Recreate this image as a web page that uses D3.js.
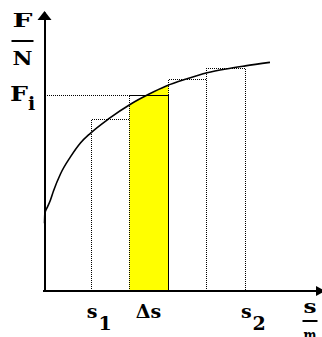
<!DOCTYPE html>
<html>
<head>
<meta charset="utf-8">
<script src="https://cdn.jsdelivr.net/npm/d3@7"></script>
<style>
  html, body { margin: 0; padding: 0; background: #fff; }
  svg { display: block; }
  text { font-family: "DejaVu Serif", "Liberation Serif", serif; font-weight: bold; fill: #000; }
</style>
</head>
<body>
<svg id="chart" width="322" height="337"></svg>
<script>
// Force curve F(s), sampled along the path
const curveS = [0, 0.01, 0.078, 0.155, 0.233, 0.414, 0.673, 0.932, 1.19, 1.66, 2.23, 2.69, 3.16, 3.68, 4.22, 4.71, 5.21, 5.85];
const curveF = [1.75, 2.01, 2.17, 2.35, 2.58, 3.02, 3.46, 3.82, 4.07, 4.44, 4.82, 5.07, 5.29, 5.47, 5.63, 5.73, 5.81, 5.90];

// Strip boundaries on the s axis and the mean force of each strip
const stripEdges = [1.2, 2.2, 3.2, 4.2, 5.2];
const stripForce = [4.44, 5.06, 5.47, 5.75];
const highlightStrip = 1;

// Axis labels
const xTickLabels = [
  { s: 1.2, main: "s", sub: "1" },
  { s: 2.7, main: "Δs", sub: "" },
  { s: 5.2, main: "s", sub: "2" }
];
const yTickLabels = [{ f: 5.06, main: "F", sub: "i" }];
const xUnit = ["s", "m"];
const yUnit = ["F", "N"];

const svg = d3.select("#chart");
const x = d3.scaleLinear().domain([0, 7.2]).range([44.5, 322]);
const y = d3.scaleLinear().domain([0, 7.2]).range([291, 12]);
const px = v => Math.round(v) + 0.5;   // snap thin lines to pixel centres

const pts = curveS.map((s, i) => ({ s, f: curveF[i] }));

// Highlighted strip: area under the curve, clipped to the strip
svg.append("clipPath").attr("id", "stripClip")
  .append("rect")
  .attr("x", px(x(stripEdges[highlightStrip])))
  .attr("width", px(x(stripEdges[highlightStrip + 1])) - px(x(stripEdges[highlightStrip])))
  .attr("y", 0).attr("height", 337);

svg.append("path")
  .datum(pts)
  .attr("clip-path", "url(#stripClip)")
  .attr("fill", "#ffff00")
  .attr("d", d3.area().x(d => x(d.s)).y0(y(0)).y1(d => y(d.f)).curve(d3.curveMonotoneX));

// Dotted strip outlines
const dotted = svg.append("g")
  .attr("fill", "none").attr("stroke", "#000")
  .attr("stroke-width", 1).attr("stroke-dasharray", "1,1")
  .attr("shape-rendering", "crispEdges");

stripForce.forEach((f, i) => {
  const x0 = px(x(stripEdges[i])), x1 = px(x(stripEdges[i + 1]));
  dotted.append("path")
    .attr("d", `M${x0},${y(0)}V${px(y(f))}H${x1}V${y(0)}`);
});

// Horizontal guide for F_i
yTickLabels.forEach(t => {
  dotted.append("line")
    .attr("x1", x(0)).attr("x2", px(x(stripEdges[highlightStrip + 1])))
    .attr("y1", px(y(t.f))).attr("y2", px(y(t.f)));
});

// The curve itself
svg.append("path")
  .datum(pts)
  .attr("fill", "none").attr("stroke", "#000").attr("stroke-width", 1.6)
  .attr("d", d3.line().x(d => x(d.s)).y(d => y(d.f)).curve(d3.curveMonotoneX));

// Axes
const xAxis = svg.append("g")
  .attr("transform", `translate(0,${y(0)})`)
  .call(d3.axisBottom(x).tickValues([]).tickSizeOuter(0));
const yAxis = svg.append("g")
  .attr("transform", `translate(${x(0)},0)`)
  .call(d3.axisLeft(y).tickValues([]).tickSizeOuter(0));
[xAxis, yAxis].forEach(g => g.select(".domain").attr("stroke", "#000").attr("stroke-width", 2));
xAxis.select(".domain").attr("d", `M${x(0) - 1.5},0H${x.range()[1]}`);

// Arrowheads
svg.append("path")
  .attr("d", `M${x(0)},${y.range()[1] - 1}L${x(0) - 7},${y.range()[1] + 8}L${x(0) + 7},${y.range()[1] + 8}Z`)
  .attr("fill", "#000");
svg.append("path")
  .attr("d", `M${x.range()[1] + 3},${y(0)}L${x.range()[1] - 6},${y(0) - 5}L${x.range()[1] - 6},${y(0) + 5}Z`)
  .attr("fill", "#000");

// s-axis labels
xTickLabels.forEach(t => {
  const txt = svg.append("text")
    .attr("y", 318)
    .style("font-size", "19px");
  if (t.sub) {
    txt.attr("x", x(t.s) - 4);
    txt.append("tspan").text(t.main);
    txt.append("tspan").attr("dx", 1).attr("dy", 12).text(t.sub);
  } else {
    txt.attr("x", x(t.s)).attr("text-anchor", "middle").text(t.main);
  }
});

// Force-axis tick label F_i
yTickLabels.forEach(t => {
  const txt = svg.append("text")
    .attr("x", 10).attr("y", y(t.f) + 6)
    .style("font-size", "21px");
  txt.append("tspan").attr("textLength", 18).attr("lengthAdjust", "spacingAndGlyphs").text(t.main);
  txt.append("tspan").attr("dy", 9).style("font-size", "19px").text(t.sub);
});

// Unit fractions
function fraction(cx, topBase, lineY, botBase, parts, width) {
  svg.append("text").attr("x", cx - width / 2).attr("y", topBase)
    .attr("textLength", width).attr("lengthAdjust", "spacingAndGlyphs")
    .style("font-size", "19px").text(parts[0]);
  svg.append("line")
    .attr("x1", cx - width / 2 - 1).attr("x2", cx + width / 2 + 1)
    .attr("y1", lineY).attr("y2", lineY)
    .attr("stroke", "#000").attr("stroke-width", 2);
  svg.append("text").attr("x", cx - width / 2).attr("y", botBase)
    .attr("textLength", width).attr("lengthAdjust", "spacingAndGlyphs")
    .style("font-size", "19px").text(parts[1]);
}
fraction(22.5, 27, 41, 65, yUnit, 20);
fraction(310, 313, 321, 342, xUnit, 13);
</script>
</body>
</html>
